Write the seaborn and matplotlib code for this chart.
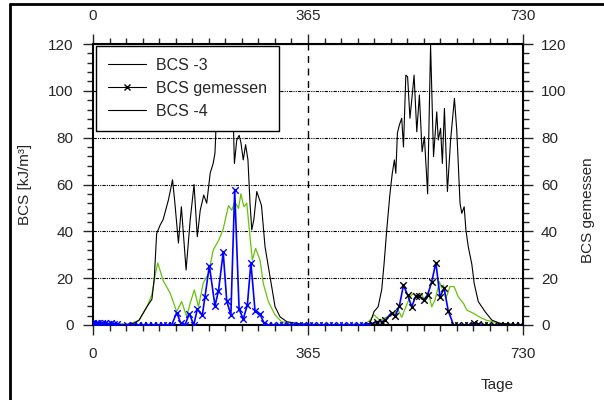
import numpy as np
import pandas as pd
import seaborn as sns
import matplotlib.pyplot as plt
from matplotlib.lines import Line2D
from matplotlib.ticker import MultipleLocator, AutoMinorLocator

# 1. Data
bcs3_tage = [0, 20, 40, 60, 70, 78, 85, 92, 100, 104, 108, 114, 119, 128, 135, 139, 145, 150, 158, 165,
             171.5, 177, 182, 188, 193, 199, 204, 207, 210, 214, 218, 222, 226, 230, 234, 237, 240, 244,
             248, 251, 255, 259, 263, 266.5, 269.5, 273, 278, 286, 292, 300.5, 309, 317.5, 329, 351, 365,
             400, 453, 465, 470, 477, 484, 490, 494, 498.6, 504, 508, 511.6, 514, 516.7, 520, 524, 527,
             531, 534, 538, 541, 545, 549.6, 554, 558.6, 562.5, 568, 573, 578, 583.5, 586, 590, 593,
             596.5, 601.6, 607, 613.5, 617.5, 623, 626, 630, 633, 637, 643, 647, 654, 665.5, 677, 691, 725, 730]
bcs3_werte = [1, 0.5, 0.2, 0.3, 0.8, 2, 5, 8, 11, 20, 39, 42.7, 45, 53.4, 62, 52, 35, 50.5, 23.5, 45,
              60, 37.7, 49, 55.5, 52, 65, 69, 73.4, 92, 100, 88, 104, 95, 110, 90, 98, 69, 79,
              81, 78, 70.5, 77, 70.5, 52, 40.6, 45, 57, 51, 33.4, 20.6, 7.8, 3.5, 1.4, 0.5, 0.3,
              0, 0, 0.5, 0.7, 5.7, 7.8, 15, 26, 40.6, 56, 64.8, 70.5, 64.8, 81.9, 85.4, 88.3, 76,
              106.7, 106, 88.3, 96, 106.7, 82.5, 98.2, 74, 80.4, 56, 119.6, 71.9, 91, 79, 84, 69,
              92.5, 57, 79, 96.8, 83, 52, 47.7, 50.5, 40.6, 33.4, 26, 17.8, 10, 5.7, 2.1, 0.7, 0, 0]

bcs4_tage = [0, 40, 60, 78, 85, 92, 100, 106, 110, 119, 131, 142, 150.5, 159, 165, 172, 179, 187, 196,
             204, 213, 221, 230, 235.5, 240.5, 247, 251, 256, 261, 266.5, 270.5, 276, 283.5, 289, 297.6,
             309, 320, 340, 365, 400, 455, 465, 470, 477, 487, 498, 510, 518, 524, 530, 538, 544, 549.6,
             557, 564, 569, 575, 580.6, 588, 592, 595, 599, 606, 613, 620, 629, 634.5, 645.6, 657, 668,
             691, 715, 730]
bcs4_werte = [0.5, 0.3, 0.3, 2, 5, 8, 13, 22, 26.5, 19, 13.6, 5.7, 10, 3.6, 9.4, 15, 7.8, 17.8, 22,
              32, 36, 41, 51, 49, 52.6, 49.8, 56, 50.5, 52, 37.7, 27.7, 32.7, 27.7, 17.8, 10,
              4.3, 1.4, 0.5, 0.2, 0, 0, 1, 2, 4.3, 2, 3.3, 4.3, 6.4, 3.3, 7.1, 12, 13.5, 12,
              13.5, 10, 14.2, 7.8, 10.7, 18.5, 15.7, 17, 11.4, 16.4, 16.4, 12, 9.2, 6.4, 5, 3.3, 2,
              0.7, 0, 0]

# measured values, first part (blue crosses)
gem1_tage = [0, 5, 9, 15, 20, 26, 31, 35, 40, 57, 68, 77, 85.6, 94, 102, 111, 119.5, 126, 133.6,
             142, 149, 156, 163.5, 171, 177, 185.6, 190, 197.5, 207, 213, 221, 227, 234, 240.5,
             248, 255, 262, 268, 275, 283.5, 290, 297, 306, 315, 323, 332, 340, 349, 357, 366,
             374, 383, 391, 400, 408, 417, 425, 434, 442, 451, 459, 466]
gem1_werte = [1, 1, 0.8, 1, 0.8, 0.6, 0.8, 0.5, 0.3, 0, 0, 0, 0, 0, 0, 0, 0, 0, 0,
              5.3, 0.8, 0, 4.8, 0, 6.7, 4.3, 12, 25.3, 8.2, 14.6, 31, 10.2, 4.3, 57.6,
              6.7, 2.6, 8.5, 26.6, 6.1, 4.6, 1, 0, 0, 0, 0, 0, 0, 0, 0, 0,
              0, 0, 0, 0, 0, 0, 0, 0, 0, 0, 0, 0]
# measured values, second part (black crosses)
gem2_tage = [473, 482, 490, 496, 507, 513, 520, 527, 534, 541, 548, 554, 561, 568, 575, 582, 589,
             596, 603, 612, 620, 629, 637, 646, 654, 663, 671, 680, 691, 700, 708, 717, 725]
gem2_werte = [0.6, 1.4, 1.4, 2.1, 5.3, 3.8, 8.1, 17, 12.8, 7.8, 12.4, 12.4, 10.7, 12.8, 18.5, 26.6, 12,
              15.7, 6, 0, 0, 0, 0, 0.8, 0.5, 0, 0, 0, 0, 0, 0, 0, 0]

x_ticks = [0, 365, 730]
y_ticks = [0, 20, 40, 60, 80, 100, 120]

df3 = pd.DataFrame({'Tage': bcs3_tage, 'BCS': bcs3_werte})
df4 = pd.DataFrame({'Tage': bcs4_tage, 'BCS': bcs4_werte})
df_gem = pd.DataFrame({'Tage': gem1_tage + gem2_tage, 'BCS': gem1_werte + gem2_werte})

# 2. Style
sns.set_style("ticks")
plt.rcParams["font.family"] = ["Liberation Sans", "DejaVu Sans"]
plt.rcParams["font.size"] = 11

fig = plt.figure(figsize=(6.04, 4.0), dpi=100)
ax = fig.add_axes([0.154, 0.1875, 0.712, 0.7025])

# 3. Lines
sns.lineplot(data=df3, x='Tage', y='BCS', ax=ax, color='black', lw=0.8,
             estimator=None, sort=False, zorder=3)
sns.lineplot(data=df4, x='Tage', y='BCS', ax=ax, color='#66c20a', lw=0.9,
             estimator=None, sort=False, zorder=2)
sns.lineplot(data=df_gem, x='Tage', y='BCS', ax=ax, color='#0000ff', lw=1.2,
             estimator=None, sort=False, zorder=4)
sns.scatterplot(x=gem1_tage, y=gem1_werte, ax=ax, marker='x', color='#0000ff',
                s=22, linewidth=1, zorder=5)
sns.scatterplot(x=gem2_tage, y=gem2_werte, ax=ax, marker='x', color='black',
                s=22, linewidth=1, zorder=5)

# 4. Axes, grid
ax.set_xlim(0, 730)
ax.set_ylim(0, 120)
ax.set_xticks(x_ticks)
ax.set_yticks(y_ticks)
ax.xaxis.set_minor_locator(AutoMinorLocator(13))
ax.yaxis.set_minor_locator(MultipleLocator(4))
ax.tick_params(which='major', direction='out', length=7, width=1, labelsize=11, pad=7)
ax.tick_params(which='minor', direction='out', length=4, width=1)
ax.tick_params(axis='x', pad=9)
for y in y_ticks[1:-1]:
    ax.axhline(y, color='black', lw=0.8, ls=(0, (3, 1, 1, 1, 1, 1)), zorder=1)
ax.axvline(365, color='black', lw=1, ls=(0, (5, 4)), zorder=1)
for sp in ax.spines.values():
    sp.set_visible(True)
    sp.set_linewidth(1.5)
    sp.set_color('black')
ax.set_xlabel('')
ax.set_ylabel('')

top = ax.secondary_xaxis('top')
top.set_xticks(x_ticks)
top.xaxis.set_minor_locator(AutoMinorLocator(13))
top.tick_params(which='major', direction='out', length=7, width=1, labelsize=11, pad=8)
top.tick_params(which='minor', direction='out', length=4, width=1)

right = ax.secondary_yaxis('right')
right.set_yticks(y_ticks)
right.yaxis.set_minor_locator(MultipleLocator(4))
right.tick_params(which='major', direction='out', length=7, width=1, labelsize=11, pad=6)
right.tick_params(which='minor', direction='out', length=4, width=1)

fig.text(0.042, 0.54, 'BCS [kJ/m³]', rotation=90, ha='center', va='center', fontsize=11)
fig.text(0.974, 0.475, 'BCS gemessen', rotation=90, ha='center', va='center', fontsize=11)
fig.text(0.823, 0.038, 'Tage', ha='center', va='center', fontsize=11)

# 5. Legend
handles = [Line2D([], [], color='black', lw=0.8),
           Line2D([], [], color='black', lw=0.8, marker='x', ms=4.5, mew=1),
           Line2D([], [], color='black', lw=0.8)]
leg = ax.legend(handles, ['BCS -3', 'BCS gemessen', 'BCS -4'], loc='upper left',
                bbox_to_anchor=(0.007, 0.993), borderaxespad=0, frameon=True, fancybox=False,
                handlelength=2.4, handletextpad=0.6, labelspacing=0.5, borderpad=0.75,
                fontsize=11.5)
leg.get_frame().set_edgecolor('black')
leg.get_frame().set_linewidth(1)
leg.get_frame().set_alpha(1)
leg.set_zorder(10)

# outer frame (left and top edge visible)
fig.add_artist(Line2D([9.5 / 604, 9.5 / 604], [0, 1 - 3.5 / 400], transform=fig.transFigure,
                      color='black', lw=2))
fig.add_artist(Line2D([9.5 / 604, 1], [1 - 3.5 / 400, 1 - 3.5 / 400], transform=fig.transFigure,
                      color='black', lw=2))

fig.savefig('out.png', dpi=100)
